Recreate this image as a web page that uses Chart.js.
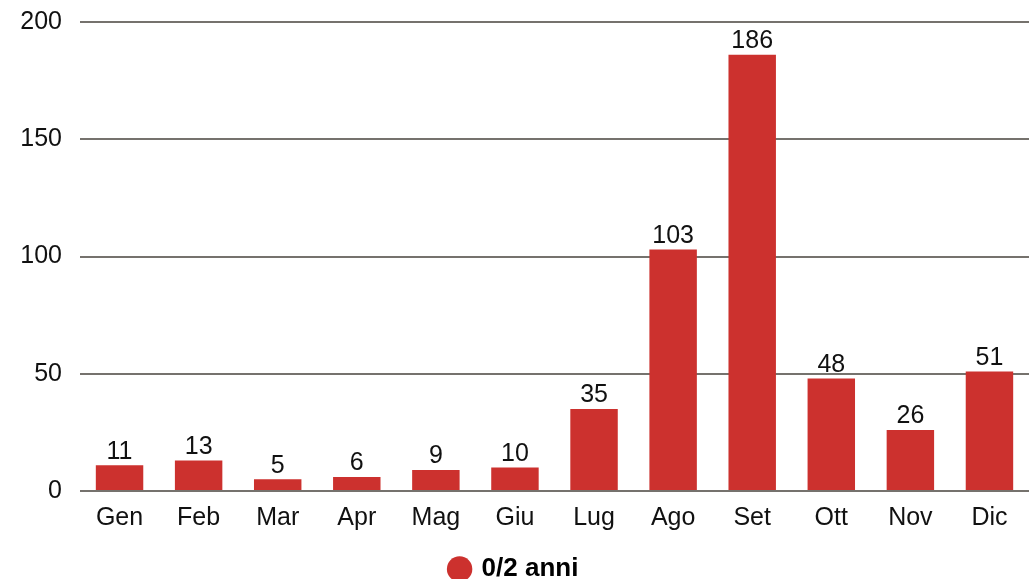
<!DOCTYPE html>
<html>
<head>
<meta charset="utf-8">
<script src="https://cdn.jsdelivr.net/npm/chart.js@4/dist/chart.umd.min.js"></script>
<style>
  html, body { margin: 0; padding: 0; background: #fff; }
  #wrap { width: 1029px; height: 579px; }
</style>
</head>
<body>
<div id="wrap"><canvas id="chart"></canvas></div>
<script>
'use strict';

const months = ['Gen', 'Feb', 'Mar', 'Apr', 'Mag', 'Giu', 'Lug', 'Ago', 'Set', 'Ott', 'Nov', 'Dic'];
const counts = [11, 13, 5, 6, 9, 10, 35, 103, 186, 48, 26, 51];
const seriesName = '0/2 anni';
const yTicks = [0, 50, 100, 150, 200];

const FONT = 'Liberation Sans, Arial, Helvetica, sans-serif';

// draws the value above each bar (no datalabels plugin available offline)
const barValues = {
  id: 'barValues',
  afterDatasetsDraw(chart) {
    const ctx = chart.ctx;
    ctx.save();
    ctx.font = `25px ${FONT}`;
    ctx.fillStyle = '#111';
    ctx.textAlign = 'center';
    ctx.textBaseline = 'bottom';
    chart.getDatasetMeta(0).data.forEach((bar, index) => {
      ctx.fillText(String(counts[index]), bar.x, bar.y - 1);
    });
    ctx.restore();
  },
};

new Chart(document.getElementById('chart'), {
  type: 'bar',
  data: {
    labels: months,
    datasets: [{
      label: seriesName,
      data: counts,
      backgroundColor: '#cc312e',
      borderWidth: 0,
      barPercentage: 0.6,
      categoryPercentage: 1,
    }],
  },
  options: {
    responsive: true,
    maintainAspectRatio: false,
    animation: false,
    layout: { padding: { top: 22, right: 0, left: 0, bottom: -13 } },
    plugins: {
      legend: {
        position: 'bottom',
        labels: {
          usePointStyle: true,
          pointStyle: 'circle',
          boxWidth: 18,
          boxHeight: 18,
          padding: 4,
          color: '#000',
          font: { family: FONT, size: 26, weight: 'bold' },
        },
      },
      tooltip: { enabled: false },
    },
    scales: {
      x: {
        afterFit: scale => { scale.height = 61; },
        grid: { display: false },
        border: { display: false },
        ticks: { color: '#111', padding: 4, font: { family: FONT, size: 25 } },
      },
      y: {
        min: 0,
        max: 200,
        afterFit: scale => {
          scale.width = 80;
          scale.paddingTop = 0;
          scale.paddingBottom = 0;
        },
        afterBuildTicks: scale => { scale.ticks = yTicks.map(value => ({ value })); },
        grid: { color: '#75726d', lineWidth: 2, drawTicks: false },
        border: { display: false },
        ticks: { color: '#111', padding: 18, font: { family: FONT, size: 25 } },
      },
    },
  },
  plugins: [barValues],
});
</script>
</body>
</html>
